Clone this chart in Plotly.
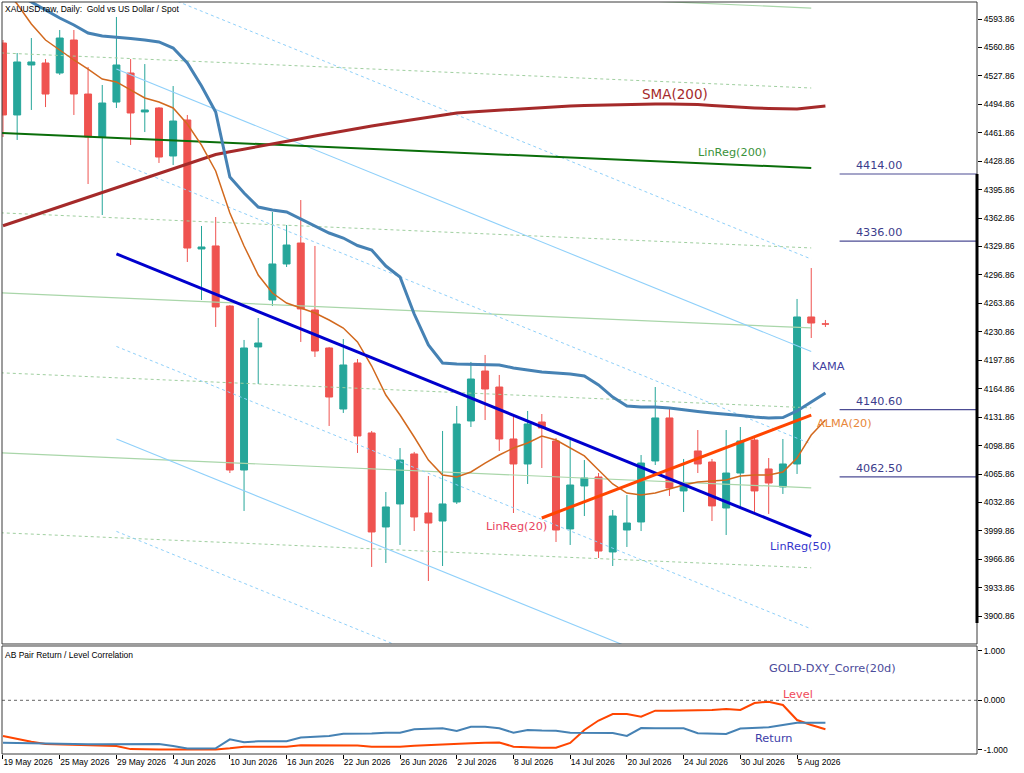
import plotly.graph_objects as go

# ---------------- data ----------------
bars = list(range(59))
date_idx = [0, 4, 8, 12, 16, 20, 24, 28, 32, 36, 40, 44, 48, 52, 56]
dates = ["19 May 2026", "25 May 2026", "29 May 2026", "4 Jun 2026", "10 Jun 2026",
         "16 Jun 2026", "22 Jun 2026", "26 Jun 2026", "2 Jul 2026", "8 Jul 2026",
         "14 Jul 2026", "20 Jul 2026", "24 Jul 2026", "30 Jul 2026", "5 Aug 2026"]

open_ = [4566.0, 4482.5, 4540.5, 4542.8, 4531.2, 4569.5, 4506.8, 4456.9, 4497.5, 4531.2,
         4486.0, 4490.6, 4434.9, 4476.7, 4327.0, 4330.5, 4260.8, 4070.5, 4213.3, 4267.8,
         4309.6, 4333.9, 4256.2, 4212.1, 4141.3, 4194.7, 4113.5, 4004.4, 4031.1, 4089.1,
         4020.6, 4011.3, 4033.4, 4127.4, 4185.4, 4166.8, 4106.5, 4077.5, 4126.2, 4104.2,
         4002.1, 4052.0, 4062.4, 3975.4, 4000.9, 4010.2, 4081.0, 4130.9, 4046.2, 4092.6,
         4079.8, 4026.4, 4067.0, 4105.3, 4071.7, 4050.8, 4077.5, 4248.1, 4240.0]
high = [4569.5, 4554.4, 4571.8, 4547.4, 4581.1, 4581.1, 4538.2, 4517.3, 4596.2, 4547.4,
        4541.6, 4491.7, 4516.1, 4482.5, 4353.7, 4364.1, 4262.0, 4221.4, 4246.9, 4369.9,
        4354.8, 4383.8, 4330.5, 4213.3, 4222.5, 4199.3, 4115.8, 4045.0, 4096.0, 4091.5,
        4063.6, 4115.8, 4144.8, 4195.9, 4204.0, 4180.8, 4134.3, 4139.0, 4135.5, 4107.7,
        4105.3, 4082.1, 4067.0, 4024.1, 4041.5, 4087.9, 4166.8, 4142.5, 4083.3, 4116.9,
        4083.3, 4116.9, 4120.4, 4108.8, 4084.4, 4106.5, 4269.0, 4304.9, 4244.6]
low = [4456.9, 4453.5, 4488.3, 4491.7, 4529.0, 4482.5, 4402.4, 4366.4, 4490.6, 4447.7,
       4462.7, 4426.8, 4424.4, 4311.9, 4267.8, 4236.5, 4067.0, 4023.0, 4170.3, 4260.8,
       4306.1, 4219.1, 4201.7, 4121.6, 4136.7, 4090.3, 3958.0, 3962.6, 3983.5, 3999.7,
       3941.7, 3959.1, 4031.1, 4120.4, 4128.5, 4092.6, 4020.6, 4054.3, 4072.8, 3987.0,
       3983.5, 4017.1, 3968.4, 3959.1, 3981.2, 3999.7, 4076.3, 4040.4, 4021.8, 4067.0,
       4011.3, 3995.1, 4027.6, 4021.8, 4019.5, 4042.7, 4065.9, 4223.7, 4236.5]
close = [4482.5, 4544.0, 4544.0, 4506.8, 4571.8, 4506.8, 4456.9, 4496.4, 4540.5, 4484.8,
         4488.3, 4433.7, 4475.5, 4328.1, 4329.3, 4259.7, 4070.5, 4212.1, 4217.9, 4309.6,
         4331.6, 4257.4, 4208.6, 4155.2, 4192.4, 4110.0, 3998.6, 4027.6, 4082.1, 4016.0,
         4009.0, 4031.1, 4123.9, 4176.1, 4164.5, 4106.5, 4077.5, 4123.9, 4119.3, 4000.9,
         4053.1, 4061.2, 3976.5, 4017.1, 4009.0, 4078.6, 4130.9, 4049.6, 4054.3, 4077.5,
         4028.8, 4067.0, 4104.2, 4046.2, 4055.4, 4077.5, 4248.1, 4241.1, 4239.9]

sma200 = [4354.0, 4359.5, 4364.9, 4370.5, 4375.9, 4381.5, 4387.0, 4392.5, 4398.1, 4403.6,
          4409.0, 4414.6, 4420.0, 4425.8, 4431.4, 4436.6, 4439.8, 4442.7, 4445.7, 4448.8,
          4451.9, 4455.0, 4458.1, 4461.2, 4464.3, 4467.0, 4469.7, 4472.3, 4474.9, 4477.5,
          4480.1, 4482.5, 4484.8, 4486.0, 4487.1, 4488.0, 4489.1, 4490.0, 4490.9, 4492.0,
          4492.9, 4493.4, 4493.8, 4494.4, 4494.9, 4495.2, 4495.2, 4495.2, 4495.2, 4494.7,
          4493.5, 4492.3, 4491.5, 4490.6, 4490.0, 4489.4, 4489.4, 4491.2, 4492.9]
kama = [4632.2, 4622.9, 4613.6, 4604.3, 4595.0, 4586.9, 4577.6, 4574.1, 4573.0, 4571.2,
        4569.5, 4567.2, 4560.2, 4542.8, 4516.1, 4485.9, 4410.5, 4391.9, 4375.7, 4372.2,
        4369.9, 4361.8, 4353.7, 4345.5, 4339.7, 4331.0, 4325.8, 4307.2, 4294.5, 4251.5,
        4215.6, 4194.7, 4193.5, 4192.9, 4192.4, 4192.4, 4188.9, 4186.6, 4184.2, 4183.1,
        4181.9, 4179.6, 4169.2, 4155.2, 4144.8, 4143.6, 4143.6, 4142.5, 4140.2, 4138.4,
        4136.7, 4135.5, 4133.8, 4132.0, 4130.9, 4131.4, 4139.0, 4149.4, 4159.9]
alma20 = [4629.8, 4611.3, 4588.1, 4569.5, 4557.9, 4546.3, 4535.8, 4524.2, 4520.8, 4511.5,
          4502.2, 4497.5, 4490.6, 4472.0, 4447.6, 4417.5, 4368.7, 4330.5, 4296.8, 4275.9,
          4264.3, 4258.5, 4252.7, 4244.6, 4235.3, 4219.1, 4191.2, 4157.5, 4134.3, 4108.8,
          4082.1, 4064.7, 4062.4, 4068.2, 4078.6, 4087.9, 4096.0, 4101.9, 4110.0, 4105.3,
          4096.0, 4086.8, 4070.5, 4054.3, 4043.8, 4041.5, 4043.8, 4048.5, 4053.1, 4056.6,
          4057.8, 4058.9, 4063.6, 4064.7, 4064.7, 4068.2, 4084.4, 4111.1, 4128.5]

# linear regression lines: end points (bar index, price) and channel step
lr200_x = [-1, 57]
lr200_y = [4462.3, 4421.0]
lr200_step = 92.8
lr50_x = [8, 57]
lr50_y = [4321.2, 3993.4]
lr50_step = 107.3
lr20_x = [38, 57]
lr20_y = [4014.8, 4134.3]

levels = [4414.00, 4336.00, 4140.60, 4062.50]
level_start = 59.0

ret_corr = [-0.860, -0.866, -0.876, -0.886, -0.892, -0.892, -0.892, -0.892, -0.892, -0.892,
            -0.886, -0.886, -0.927, -0.978, -0.978, -0.974, -0.791, -0.852, -0.832, -0.832,
            -0.832, -0.755, -0.744, -0.724, -0.677, -0.677, -0.673, -0.657, -0.657, -0.588,
            -0.572, -0.568, -0.623, -0.535, -0.535, -0.568, -0.657, -0.602, -0.613, -0.617,
            -0.657, -0.657, -0.657, -0.663, -0.724, -0.562, -0.568, -0.568, -0.568, -0.669,
            -0.669, -0.684, -0.572, -0.558, -0.548, -0.501, -0.454, -0.454, -0.454]
lvl_corr = [-0.724, -0.785, -0.840, -0.886, -0.897, -0.907, -0.917, -0.927, -0.927, -0.990,
            -1.000, -1.000, -1.000, -1.000, -1.000, -1.000, -0.974, -0.941, -0.941, -0.941,
            -0.941, -0.913, -0.913, -0.913, -0.913, -0.917, -0.941, -0.941, -0.941, -0.923,
            -0.907, -0.897, -0.880, -0.870, -0.860, -0.856, -0.941, -0.953, -0.961, -0.961,
            -0.866, -0.602, -0.410, -0.278, -0.278, -0.333, -0.211, -0.211, -0.211, -0.211,
            -0.197, -0.176, -0.197, -0.055, -0.028, -0.095, -0.400, -0.501, -0.588]

price_ticks = [3900.86 + 33 * k for k in range(22)]

# ---------------- figure ----------------
X0, X1 = -0.07, 68.69
SMALL = "Liberation Sans"
LBL = "DejaVu Sans"

fig = go.Figure()

def line(x, y, color, width, dash="solid", yaxis="y"):
    fig.add_trace(go.Scatter(x=x, y=y, mode="lines", yaxis=yaxis, xaxis="x",
                             line=dict(color=color, width=width, dash=dash),
                             hoverinfo="skip", showlegend=False))

# LinReg(200) channel
for m in range(-5, 3):
    if m == 0:
        continue
    ys = [v + m * lr200_step for v in lr200_y]
    if m % 2:
        line(lr200_x, ys, "#9fcf9f", 1, "3px,3px")
    else:
        line(lr200_x, ys, "#a9d6a9", 1.2)
# LinReg(50) channel
for m in range(-3, 4):
    if m == 0:
        continue
    ys = [v + m * lr50_step for v in lr50_y]
    if m % 2:
        line(lr50_x, ys, "#8fd0fa", 1, "3px,3px")
    else:
        line(lr50_x, ys, "#8fd0fa", 1.1)

line(lr200_x, lr200_y, "#0a6e0a", 2)
line(bars, sma200, "#a52a2a", 3)
line(bars, kama, "#4682b4", 3)
line(bars, alma20, "#d2691e", 1.5)
line(lr50_x, lr50_y, "#0000cd", 3)
line(lr20_x, lr20_y, "#ff4500", 3)

fig.add_trace(go.Candlestick(
    x=bars, open=open_, high=high, low=low, close=close,
    xaxis="x", yaxis="y", whiskerwidth=0, showlegend=False, hoverinfo="skip",
    increasing=dict(line=dict(color="#26a69a", width=1), fillcolor="#26a69a"),
    decreasing=dict(line=dict(color="#ef5350", width=1), fillcolor="#ef5350"),
))

# sub panel
line(bars, lvl_corr, "#ff4500", 2, yaxis="y2")
line(bars, ret_corr, "#4682b4", 2, yaxis="y2")

shapes = []
for lv in levels:
    shapes.append(dict(type="line", xref="x", yref="y", x0=level_start, x1=X1, y0=lv, y1=lv,
                       line=dict(color="#4c4c94", width=1.2)))
shapes.append(dict(type="line", xref="x domain", yref="y2", x0=0, x1=1, y0=0, y1=0,
                   line=dict(color="#666666", width=1, dash="3px,3px")))
for ya in ["y", "y2"]:
    shapes.append(dict(type="rect", xref="x domain", yref=ya + " domain", x0=0, x1=1, y0=0, y1=1,
                       line=dict(color="#3a3a3a", width=1), layer="above"))
shapes.append(dict(type="line", xref="x domain", yref="y", x0=1, x1=1, y0=levels[0], y1=3893,
                   line=dict(color="black", width=3)))

ann = []
def label(text, x, y, color, size=11.3, yref="y", yanchor="middle", family=LBL):
    ann.append(dict(text=text, x=x, y=y, xref="x", yref=yref, xanchor="left", yanchor=yanchor,
                    showarrow=False, font=dict(family=family, size=size, color=color), borderpad=0))

label("SMA(200)", 45.0, 4506.8, "#a52a2a", size=13.5)
label("LinReg(200)", 48.94, 4438.4, "#3a923a")
label("KAMA", 56.97, 4191.2, "#3f3f9f")
label("ALMA(20)", 57.32, 4123.9, "#e8873a")
label("LinReg(50)", 54.01, 3981.2, "#3535cc")
label("LinReg(20)", 34.01, 4004.4, "#e8445e")
for lv in levels:
    ann.append(dict(text=f"{lv:.2f}", x=60.07, y=lv, xref="x", yref="y", xanchor="left",
                    yanchor="bottom", yshift=1, showarrow=False, borderpad=0,
                    font=dict(family=LBL, size=11.2, color="#3c3c8c")))
label("GOLD-DXY_Corre(20d)", 53.94, 0.655, "#4b4b9b", yref="y2")
label("Level", 54.93, 0.108, "#f04a5a", yref="y2")
label("Return", 52.96, -0.785, "#3c3ca8", yref="y2")

ann.append(dict(text="XAUUSD.raw, Daily:  Gold vs US Dollar / Spot", xref="x domain", yref="y domain",
                x=0, y=1, xshift=2, yshift=-1, xanchor="left", yanchor="top", showarrow=False,
                borderpad=0, font=dict(family=SMALL, size=8.5, color="black")))
ann.append(dict(text="AB Pair Return / Level Correlation", xref="x domain", yref="y2 domain",
                x=0, y=1, xshift=2, yshift=-3, xanchor="left", yanchor="top", showarrow=False,
                borderpad=0, font=dict(family=SMALL, size=8.5, color="black")))

tickfont = dict(family=SMALL, size=8.5, color="black")
fig.update_layout(
    width=1024, height=773, margin=dict(l=2, r=47, t=2, b=19, autoexpand=False),
    paper_bgcolor="white", plot_bgcolor="white", showlegend=False, boxgap=0.3,
    shapes=shapes, annotations=ann,
    xaxis=dict(domain=[0, 1], range=[X0, X1], anchor="y2", tickvals=date_idx, ticktext=dates,
               ticks="outside", ticklen=4, tickcolor="black", ticklabelposition="outside right",
               tickangle=0, automargin=False,
               tickfont=tickfont, showgrid=False, zeroline=False, showline=False,
               rangeslider=dict(visible=False)),
    yaxis=dict(domain=[0.14628, 1], range=[3868.6, 4613.6], side="right", anchor="x",
               tickvals=price_ticks, ticktext=[f"{v:.2f}" for v in price_ticks], automargin=False,
               ticks="outside", ticklen=4, tickcolor="black", tickfont=tickfont,
               showgrid=False, zeroline=False, showline=False),
    yaxis2=dict(domain=[0, 0.14362], range=[-1.0893, 1.1014], side="right", anchor="x",
                tickvals=[1, 0, -1], ticktext=["1.000", "0.000", "-1.000"], automargin=False,
                ticks="outside", ticklen=4, tickcolor="black", tickfont=tickfont,
                showgrid=False, zeroline=False, showline=False),
)

fig.write_html("out.html", config={"displayModeBar": False, "staticPlot": True},
               post_script="document.body.style.margin='0';document.body.style.padding='0';"
                           "document.body.style.overflow='hidden';")
